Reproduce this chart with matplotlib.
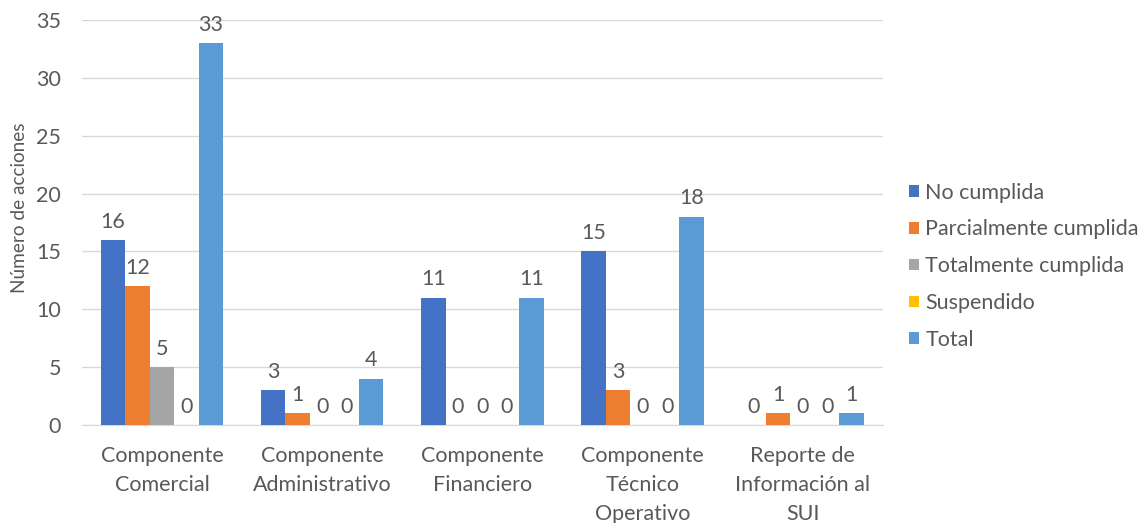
import matplotlib
matplotlib.use("Agg")
import matplotlib.pyplot as plt
import numpy as np

plt.rcParams["font.family"] = ["Lato", "DejaVu Sans"]

categorias = ["Componente\nComercial", "Componente\nAdministrativo",
              "Componente\nFinanciero", "Componente\nTécnico\nOperativo",
              "Reporte de\nInformación al\nSUI"]
series = ["No cumplida", "Parcialmente cumplida", "Totalmente cumplida",
          "Suspendido", "Total"]
no_cumplida = [16, 3, 11, 15, 0]
parcial = [12, 1, 0, 3, 1]
totalmente = [5, 0, 0, 0, 0]
suspendido = [0, 0, 0, 0, 0]
total = [33, 4, 11, 18, 1]
colores = ["#4472C4", "#ED7D31", "#A5A5A5", "#FFC000", "#5B9BD5"]

valores = [no_cumplida, parcial, totalmente, suspendido, total]
texto = "#595959"
tam = 15.5

fig = plt.figure(figsize=(11.48, 5.23), dpi=100)
ax = fig.add_axes([0.0714, 0.1874, 0.6976, 0.7744])

x = np.arange(len(categorias))
ancho = 0.153
for i, (nombre, vals) in enumerate(zip(series, valores)):
    pos = x + (i - 2) * ancho
    barras = ax.bar(pos, vals, ancho, color=colores[i], label=nombre, zorder=3)
    ax.bar_label(barras, padding=6, fontsize=tam, color=texto)

ax.set_xlim(-0.5, len(categorias) - 0.5)
ax.set_ylim(0, 35)
ax.set_yticks(range(0, 36, 5))
ax.grid(axis="y", color="#D9D9D9", linewidth=1, zorder=0)
for lado in ["top", "right", "left"]:
    ax.spines[lado].set_visible(False)
ax.spines["bottom"].set_color("#D9D9D9")
ax.set_xticks(x)
ax.set_xticklabels(categorias, linespacing=1.56)
ax.tick_params(axis="both", length=0, labelsize=tam, colors=texto)
ax.tick_params(axis="x", pad=15)
ax.tick_params(axis="y", pad=15)
ax.set_ylabel("Número de acciones", fontsize=13.7, color=texto, labelpad=6,
              y=0.536)

fig.legend(loc="center left", bbox_to_anchor=(0.775, 0.491), frameon=False,
           fontsize=tam, labelcolor=texto, handlelength=0.45, handleheight=0.45,
           handletextpad=0.3, labelspacing=0.78)

fig.savefig("out.png", dpi=100)
